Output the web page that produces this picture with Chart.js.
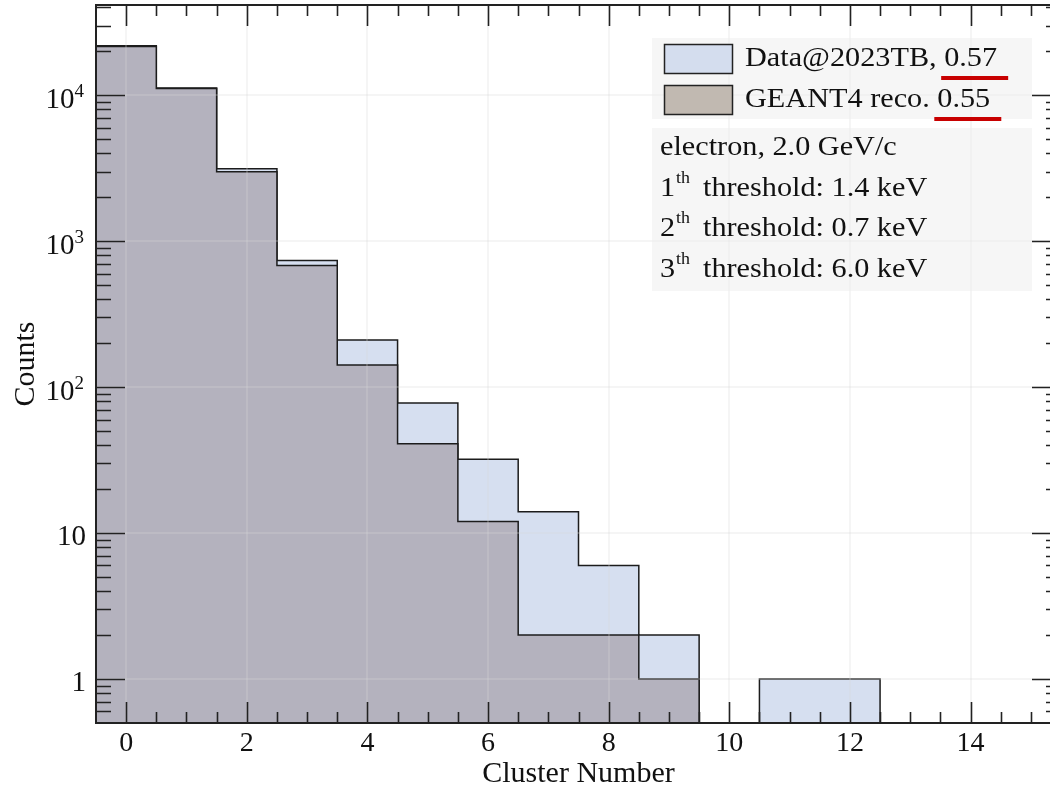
<!DOCTYPE html>
<html>
<head>
<meta charset="utf-8">
<script src="https://cdn.jsdelivr.net/npm/chart.js@4.4.0/dist/chart.umd.min.js"></script>
<style>
  html, body { margin: 0; padding: 0; overflow: hidden; background: #fff; }
  canvas { display: block; }
</style>
</head>
<body>
<canvas id="grafico" width="1070" height="789"></canvas>
<script>
// Datos del histograma
const numerosCluster = [0, 1, 2, 3, 4, 5, 6, 7, 8, 9, 10, 11, 12, 13, 14, 15];
const conteosDatos = [21800, 11200, 3130, 736, 210, 78, 32, 14, 6, 2, 0, 1, 1, 0, 0, 0];
const conteosGeant = [21600, 11100, 2990, 680, 142, 41, 12, 2, 2, 1, 0, 0, 0, 0, 0, 0];

// Etiquetas de los ejes
const etiquetasX = [0, 2, 4, 6, 8, 10, 12, 14];
const decadasY = [1, 10, 100, 1000, 10000];

// Textos de la leyenda y del recuadro de información
const nombresSeries = ["Data@2023TB, ", "GEANT4 reco. "];
const valoresSeries = ["0.57", "0.55"];
const coloresLeyenda = ["#d4ddee", "#c1b9b1"];
const lineasInfo = [
    { num: "", sup: "", texto: "electron, 2.0 GeV/c" },
    { num: "1", sup: "th", texto: "threshold: 1.4 keV" },
    { num: "2", sup: "th", texto: "threshold: 0.7 keV" },
    { num: "3", sup: "th", texto: "threshold: 6.0 keV" }
];

const FUENTE = '"Liberation Serif", "Times New Roman", serif';
const PISO = 0.05; // valor bajo el eje para dibujar los bins vacíos

// Convierte los conteos en puntos de escalón (bordes de cada bin)
function puntosEscalon(conteos) {
    const puntos = numerosCluster.map((n, i) => ({ x: n - 0.5, y: conteos[i] > 0 ? conteos[i] : PISO }));
    const ultimo = numerosCluster.length - 1;
    puntos.push({ x: numerosCluster[ultimo] + 0.5, y: puntos[ultimo].y });
    return puntos;
}

// Comprueba si un valor es potencia de 10
function esDecada(v) {
    const l = Math.log10(v);
    return Math.abs(l - Math.round(l)) < 1e-6;
}

// Comprueba si un valor es m*10^n con m entero
function esMarcaLog(v) {
    const base = Math.pow(10, Math.floor(Math.log10(v) + 1e-9));
    const m = v / base;
    return Math.abs(m - Math.round(m)) < 1e-6;
}

// Texto estirado horizontalmente (el original está ensanchado)
function textoEstirado(ctx, str, x, y, size) {
    ctx.save();
    ctx.translate(x, y);
    ctx.scale(1.12, 1);
    ctx.font = size + "px " + FUENTE;
    ctx.fillText(str, 0, 0);
    const ancho = ctx.measureText(str).width * 1.12;
    ctx.restore();
    return ancho;
}

const pluginDecoracion = {
    id: "decoracion",
    afterDraw(chart) {
        const ctx = chart.ctx;
        const area = chart.chartArea;
        const ex = chart.scales.x;
        const ey = chart.scales.y;

        ctx.save();
        ctx.strokeStyle = "#222";
        ctx.lineWidth = 1.6;

        // Marcas del eje X (arriba y abajo, hacia dentro)
        ex.ticks.forEach(t => {
            const v = t.value;
            if (v <= ex.min + 1e-6 || v >= ex.max - 1e-6) return;
            const mayor = Math.abs(v % 2) < 1e-6;
            const largo = mayor ? 21 : 11;
            const px = Math.round(ex.getPixelForValue(v)) + 0.5;
            ctx.beginPath();
            ctx.moveTo(px, area.bottom); ctx.lineTo(px, area.bottom - largo);
            ctx.moveTo(px, area.top); ctx.lineTo(px, area.top + largo);
            ctx.stroke();
        });

        // Marcas del eje Y (izquierda y derecha)
        ey.ticks.forEach(t => {
            const v = t.value;
            if (v <= ey.min || v > ey.max || !esMarcaLog(v)) return;
            const largo = esDecada(v) ? 29 : 15;
            const py = Math.round(ey.getPixelForValue(v)) + 0.5;
            ctx.beginPath();
            ctx.moveTo(area.left, py); ctx.lineTo(area.left + largo, py);
            ctx.moveTo(area.right, py); ctx.lineTo(area.right - largo, py);
            ctx.stroke();
        });

        // Marco del gráfico
        ctx.lineWidth = 2;
        ctx.strokeRect(area.left, area.top, area.right - area.left, area.bottom - area.top);

        // Etiquetas del eje Y con exponentes
        ctx.fillStyle = "#111";
        ctx.textAlign = "right";
        ctx.textBaseline = "alphabetic";
        decadasY.forEach(v => {
            const py = ey.getPixelForValue(v);
            const exp = Math.round(Math.log10(v));
            if (exp < 2) {
                ctx.font = "29px " + FUENTE;
                ctx.fillText(String(v), 86, py + 12);
            } else {
                ctx.font = "19px " + FUENTE;
                ctx.fillText(String(exp), 84, py + 2);
                const anchoSup = ctx.measureText(String(exp)).width;
                ctx.font = "29px " + FUENTE;
                ctx.fillText("10", 84 - anchoSup, py + 13);
            }
        });

        // Recuadros de la leyenda
        ctx.fillStyle = "rgba(238, 238, 238, 0.5)";
        ctx.fillRect(652, 38, 380, 81);
        ctx.fillRect(652, 128, 380, 163);

        ctx.textAlign = "left";
        nombresSeries.forEach((nombre, i) => {
            const y0 = 44 + i * 41;
            ctx.fillStyle = coloresLeyenda[i];
            ctx.fillRect(664, y0, 68, 29);
            ctx.lineWidth = 1.5;
            ctx.strokeStyle = "#222";
            ctx.strokeRect(664.5, y0 + 0.5, 68, 29);
            ctx.fillStyle = "#111";
            const base = y0 + 22;
            const ancho = textoEstirado(ctx, nombre, 745, base, 27);
            const xValor = 745 + ancho;
            textoEstirado(ctx, valoresSeries[i], xValor, base, 27);
            // Subrayado rojo del valor
            ctx.fillStyle = "#c80000";
            ctx.fillRect(xValor - 3, base + 10, 67, 4);
        });

        // Texto de información
        ctx.fillStyle = "#111";
        lineasInfo.forEach((linea, i) => {
            const base = 155 + i * 40.5;
            if (!linea.num) {
                textoEstirado(ctx, linea.texto, 660, base, 27);
                return;
            }
            const w = textoEstirado(ctx, linea.num, 660, base, 27);
            textoEstirado(ctx, linea.sup, 660 + w + 1, base - 13, 16);
            textoEstirado(ctx, linea.texto, 703, base, 27);
        });

        ctx.restore();
    }
};

new Chart(document.getElementById("grafico"), {
    type: "line",
    data: {
        datasets: [
            {
                label: "Data@2023TB",
                data: puntosEscalon(conteosDatos),
                stepped: "before",
                borderColor: "#1c1c1c",
                borderWidth: 1.5,
                backgroundColor: "#d6dff0",
                fill: "start",
                pointRadius: 0,
                order: 2
            },
            {
                label: "GEANT4 reco.",
                data: puntosEscalon(conteosGeant),
                stepped: "before",
                borderColor: "#1c1c1c",
                borderWidth: 1.5,
                backgroundColor: "#b4b2be",
                fill: "start",
                pointRadius: 0,
                order: 1
            }
        ]
    },
    options: {
        responsive: false,
        animation: false,
        devicePixelRatio: 1,
        layout: { padding: { top: 5, right: 9, left: 0, bottom: 0 } },
        plugins: {
            legend: { display: false },
            tooltip: { enabled: false }
        },
        scales: {
            x: {
                type: "linear",
                min: -0.5,
                max: 15.5,
                afterFit: (escala) => { escala.height = 66; },
                border: { display: false },
                grid: {
                    z: 1,
                    drawTicks: false,
                    lineWidth: 2,
                    color: (c) => (c.tick && etiquetasX.includes(c.tick.value)) ? "rgba(215,215,215,0.25)" : "rgba(0,0,0,0)"
                },
                ticks: {
                    stepSize: 0.5,
                    autoSkip: false,
                    maxRotation: 0,
                    padding: 4,
                    color: "#111",
                    font: { family: FUENTE, size: 28 },
                    callback: (v) => etiquetasX.includes(v) ? String(v) : ""
                },
                title: {
                    display: true,
                    text: "Cluster Number",
                    color: "#111",
                    padding: { top: 0, bottom: 0 },
                    font: { family: FUENTE, size: 30, lineHeight: 1 }
                }
            },
            y: {
                type: "logarithmic",
                min: 0.5,
                max: 41500,
                afterFit: (escala) => { escala.width = 96; },
                border: { display: false },
                grid: {
                    z: 1,
                    drawTicks: false,
                    lineWidth: 2,
                    color: (c) => (c.tick && esDecada(c.tick.value)) ? "rgba(215,215,215,0.25)" : "rgba(0,0,0,0)"
                },
                ticks: { display: false },
                title: {
                    display: true,
                    text: "Counts",
                    color: "#111",
                    padding: { top: 11, bottom: 0 },
                    font: { family: FUENTE, size: 30, lineHeight: 1 }
                }
            }
        }
    },
    plugins: [pluginDecoracion]
});
</script>
</body>
</html>
